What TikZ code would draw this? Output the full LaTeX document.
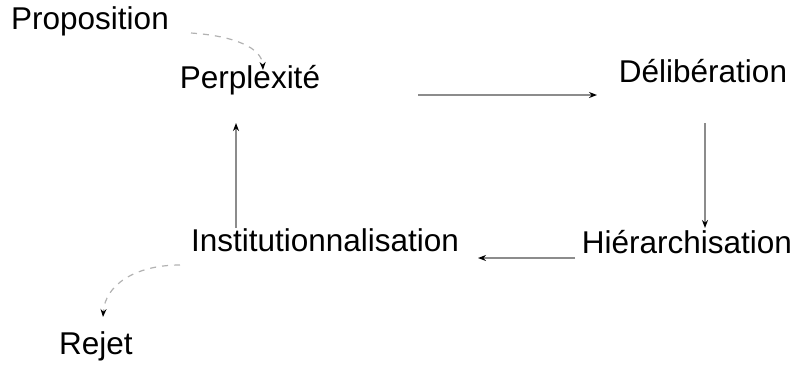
\documentclass[tikz,border=0pt]{standalone}
\usepackage{fontspec}
\setmainfont{Liberation Sans}
\usetikzlibrary{arrows.meta}

\begin{document}
\begin{tikzpicture}
  [x=0.5pt,y=-0.5pt,
   every node/.style={inner sep=0pt,anchor=base,font=\fontsize{15.75}{19}\selectfont},
   flow/.style={draw=black!45,line width=0.7pt,-{Stealth[length=4pt,width=3pt,color=black]}},
   aside/.style={draw=black!30,line width=0.6pt,dashed,-{Stealth[length=4pt,width=3pt,color=black]}}]

  \useasboundingbox (0,0) rectangle (791,366);

  %%%%%%%%%%%%%%%%%%%%%% CYCLE %%%%%%%%%%%%%%%%%%%%%%

  \node (prop)  at (90,29)   {Proposition};
  \node (perp)  at (250,88)  {Perplexité};
  \node (delib) at (703,82)  {Délibération};
  \node (hier)  at (687,253) {Hiérarchisation};
  \node (inst)  at (325,251) {Institutionnalisation};
  \node (rejet) at (96,354)  {Rejet};

  \draw[flow] ([shift={(168,7)}]perp.base) -- ([shift={(-106,13)}]delib.base);
  \draw[flow] ([shift={(2,41)}]delib.base) -- ([shift={(18,-25)}]hier.base);
  \draw[flow] ([shift={(-112,5)}]hier.base) -- ([shift={(153,7)}]inst.base);
  \draw[flow] ([shift={(-89,-23)}]inst.base) -- ([shift={(-14,35)}]perp.base);

  %%%%%%%%%%%%%%%%%%%%%% IN / OUT %%%%%%%%%%%%%%%%%%%%%%

  \draw[aside] ([shift={(101,4)}]prop.base)
    .. controls ([shift={(145,7)}]prop.base) and ([shift={(12,-40)}]perp.base)
    .. ([shift={(13,-18)}]perp.base);
  \draw[aside] ([shift={(-145,14)}]inst.base)
    .. controls ([shift={(-190,14)}]inst.base) and ([shift={(9,-69)}]rejet.base)
    .. ([shift={(7,-37)}]rejet.base);

\end{tikzpicture}
\end{document}
